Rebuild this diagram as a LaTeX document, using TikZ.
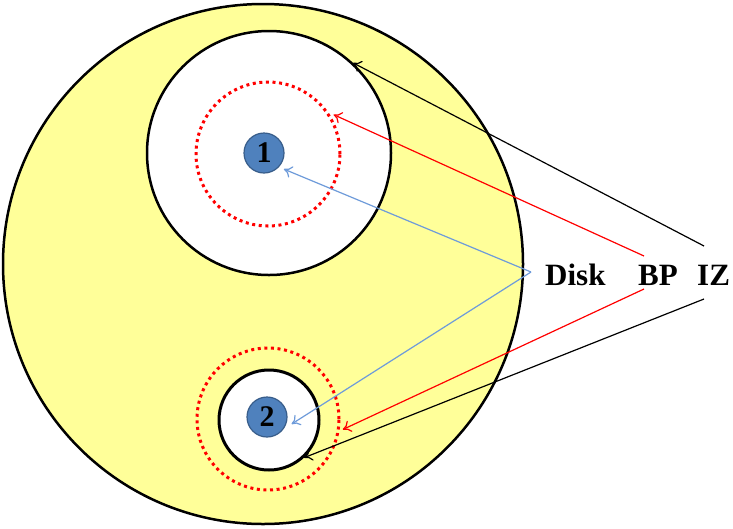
\documentclass[tikz,border=0pt]{standalone}
\usepackage{fontspec}
\setmainfont{Liberation Serif}
\usetikzlibrary{arrows.meta}
\definecolor{paleyellow}{HTML}{FFFF99}
\definecolor{ballfill}{HTML}{4F81BD}
\definecolor{ballrim}{HTML}{385D8A}
\definecolor{diskblue}{HTML}{6E9BDA}
\begin{document}
\begin{tikzpicture}[x=1pt,y=-1pt,
  ring/.style={circle,draw=black,line width=2.5pt,inner sep=0pt,minimum size=#1},
  dotring/.style={circle,draw=red,line width=3pt,dash pattern=on 3pt off 3.6pt,inner sep=0pt,minimum size=#1},
  ball/.style={circle,fill=ballfill,draw=ballrim,line width=1.2pt,inner sep=0pt,minimum size=40pt,
    font=\fontsize{30}{32}\selectfont\bfseries},
  label/.style={inner sep=0pt,anchor=base west,font=\fontsize{31}{36}\selectfont\bfseries},
  ptr/.style={line width=1.2pt,-{To[length=8pt,width=12pt]}}]
  \useasboundingbox (0,0) rectangle (733,528);

  % outer body
  \node[ring=520pt,fill=paleyellow] (body) at (263,264) {};
  % upper white region with its dotted boundary and ball
  \node[ring=244pt,fill=white] (upper) at (269,153) {};
  \node[dotring=144pt] (bp1) at (268,154) {};
  \node[ball] (b1) at (264,153) {1};
  % lower white region with its dotted boundary and ball
  \node[ring=100pt,fill=white,line width=3pt] (lower) at (269,420) {};
  \node[dotring=142pt] (bp2) at (268,419) {};
  \node[ball] (b2) at (267,417) {2};

  % labels
  \node[label] (disk) at (545,285) {Disk};
  \node[label] (bp) at (638,285) {BP};
  \node[label] (iz) at (697,285) {IZ};

  % connector roots next to the labels
  \coordinate (dk) at (531,272);
  \coordinate (bpU) at (644,256);
  \coordinate (bpD) at (644,289);
  \coordinate (izU) at (704,246);
  \coordinate (izD) at (704,299);

  \draw[ptr,diskblue] (dk) -- ([shift={(-39:5pt)}]b1.-39);
  \draw[ptr,diskblue] (dk) -- ([shift={(-16:5pt)}]b2.-16);
  \draw[ptr,red] (bpU) -- ([shift={(31:3pt)}]bp1.31);
  \draw[ptr,red] (bpD) -- ([shift={(-8:3pt)}]bp2.-8);
  \draw[ptr,black] (izU) -- (upper.47);
  \draw[ptr,black] (izD) -- (lower.-47);
\end{tikzpicture}
\end{document}
